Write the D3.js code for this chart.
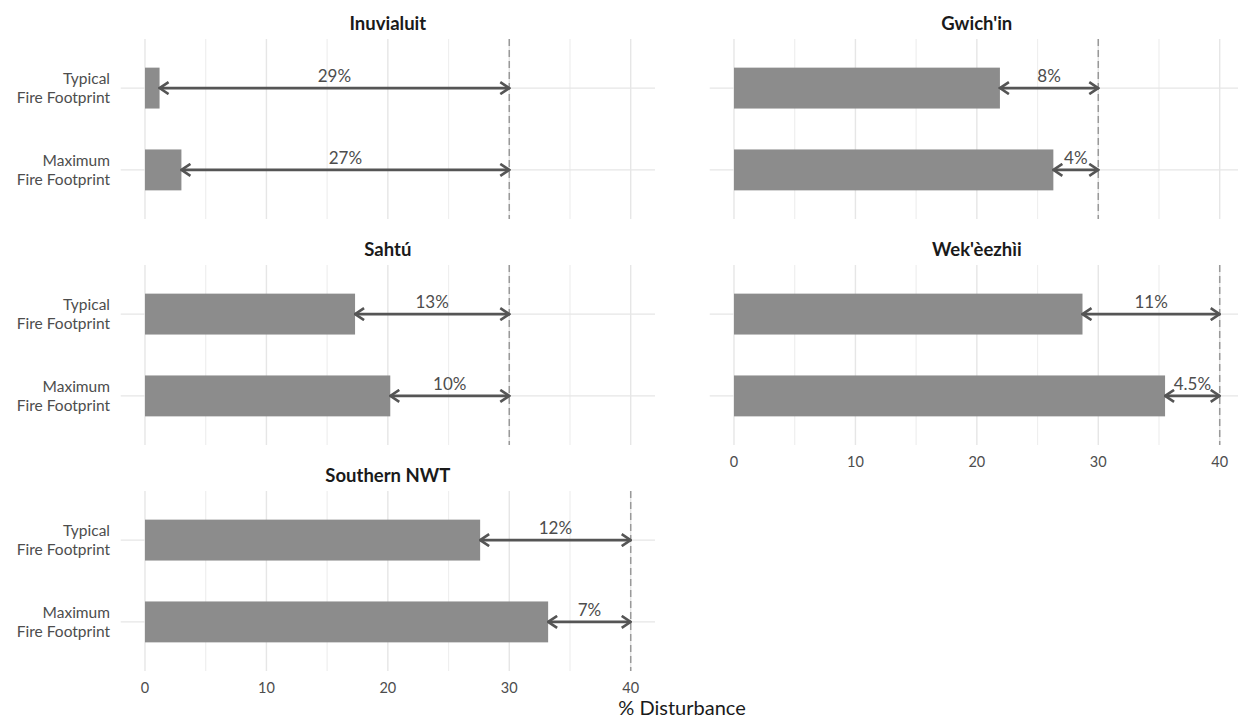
<!DOCTYPE html>
<html><head><meta charset="utf-8">
<script src="https://cdn.jsdelivr.net/npm/d3@7"></script>
<style>body{margin:0;background:#fff}svg{display:block}text{font-family:"Source Sans Pro",Lato,"Open Sans",sans-serif}</style>
</head><body><svg id="c" width="1238" height="721"></svg>
<script>
const regions = ["Inuvialuit","Gwich'in","Sahtú","Wek'èezhìi","Southern NWT"];
const categories = ["Typical\nFire Footprint","Maximum\nFire Footprint"];
const typicalValues = [1.2, 21.9, 17.3, 28.7, 27.6];
const maximumValues = [3.0, 26.3, 20.2, 35.5, 33.2];
const thresholds = [30, 30, 30, 40, 40];
const typicalLabels = ["29%","8%","13%","11%","12%"];
const maximumLabels = ["27%","4%","10%","4.5%","7%"];
const xTicks = [0,10,20,30,40];
const minorTicks = [5,15,25,35];
const xTitle = "% Disturbance";

const svg = d3.select("#c");
const defs = svg.append("defs");
defs.append("marker").attr("id","ah").attr("viewBox","0 0 12 14").attr("refX",10.5).attr("refY",7)
  .attr("markerWidth",12).attr("markerHeight",14).attr("markerUnits","userSpaceOnUse")
  .attr("orient","auto-start-reverse")
  .append("path").attr("d","M1.5,1 L10.5,7 L1.5,13").attr("fill","none").attr("stroke","#555")
  .attr("stroke-width",2.6).attr("stroke-linejoin","miter");

const colL = [120.7, 655], colR = [709.7, 1244];
const rowTops = [39, 265, 491], panelH = 180;

regions.forEach((reg, i) => {
  const col = i % 2, row = Math.floor(i / 2);
  const xr = col === 0 ? colL : colR;
  const top = rowTops[row];
  const x = d3.scaleLinear().domain([-2, 42]).range(xr);
  const y = d3.scalePoint().domain(categories).range([top, top + panelH]).padding(0.6);
  const bw = y.step() * 0.5;
  const g = svg.append("g");
  g.selectAll(".mn").data(minorTicks).join("line")
    .attr("x1", d => x(d)).attr("x2", d => x(d)).attr("y1", top).attr("y2", top + panelH)
    .attr("stroke", "#efefef").attr("stroke-width", 1.2);
  g.selectAll(".mj").data(xTicks).join("line")
    .attr("x1", d => x(d)).attr("x2", d => x(d)).attr("y1", top).attr("y2", top + panelH)
    .attr("stroke", "#e6e6e6").attr("stroke-width", 1.4);
  g.selectAll(".hg").data(categories).join("line")
    .attr("x1", xr[0]).attr("x2", xr[1]).attr("y1", d => y(d)).attr("y2", d => y(d))
    .attr("stroke", "#e6e6e6").attr("stroke-width", 1.4);
  const vals = [typicalValues[i], maximumValues[i]];
  const labs = [typicalLabels[i], maximumLabels[i]];
  g.selectAll(".bar").data(categories).join("rect")
    .attr("x", x(0)).attr("y", d => y(d) - bw / 2)
    .attr("width", (d, j) => x(vals[j]) - x(0)).attr("height", bw)
    .attr("fill", "#8c8c8c");
  g.append("line").attr("x1", x(thresholds[i])).attr("x2", x(thresholds[i]))
    .attr("y1", top).attr("y2", top + panelH)
    .attr("stroke", "#999").attr("stroke-width", 1.5).attr("stroke-dasharray", "7,4");
  g.selectAll(".ar").data(categories).join("line")
    .attr("x1", (d, j) => x(vals[j])).attr("x2", x(thresholds[i]))
    .attr("y1", d => y(d)).attr("y2", d => y(d))
    .attr("stroke", "#555").attr("stroke-width", 2.6)
    .attr("marker-start", "url(#ah)").attr("marker-end", "url(#ah)");
  g.selectAll(".lb").data(categories).join("text")
    .attr("x", (d, j) => (x(vals[j]) + x(thresholds[i])) / 2).attr("y", d => y(d) - 6)
    .attr("text-anchor", "middle").attr("font-size", 17).attr("fill", "#4d4d4d")
    .text((d, j) => labs[j]);
  g.append("text").attr("x", (xr[0] + xr[1]) / 2).attr("y", top - 9)
    .attr("text-anchor", "middle").attr("font-size", 18.5).attr("font-weight", "bold").attr("fill", "#1a1a1a")
    .text(reg);
  if (col === 0) {
    categories.forEach(c => {
      const lines = c.split("\n");
      lines.forEach((ln, k) => g.append("text").attr("text-anchor", "end").attr("font-size", 15.5)
        .attr("fill", "#4d4d4d").attr("x", 110).attr("y", y(c) - 4 + k * 19).text(ln));
    });
  }
  const isBottom = (row === 2) || (row === 1 && col === 1);
  if (isBottom) {
    g.selectAll(".tk").data(xTicks).join("text")
      .attr("x", d => x(d)).attr("y", top + panelH + 22)
      .attr("text-anchor", "middle").attr("font-size", 14.5).attr("fill", "#4d4d4d")
      .text(d => d);
  }
});
svg.append("text").attr("x", 682).attr("y", 715).attr("text-anchor", "middle")
  .attr("font-size", 20).attr("fill", "#1a1a1a").text(xTitle);
</script></body></html>
